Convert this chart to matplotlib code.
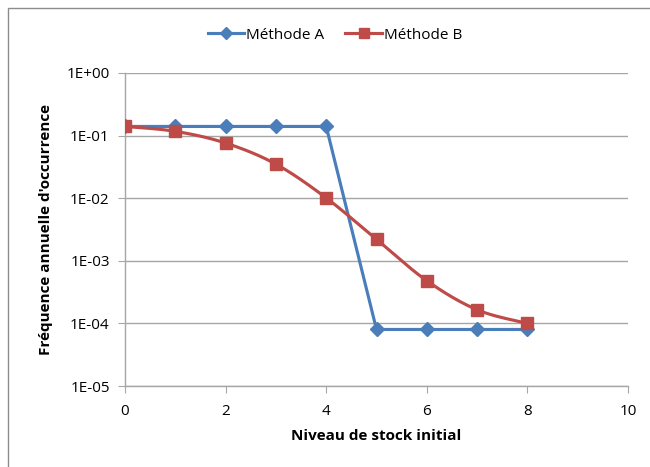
import numpy as np
import matplotlib
matplotlib.use("Agg")
import matplotlib.pyplot as plt
from matplotlib.patches import Rectangle
from matplotlib.lines import Line2D

x_a = [0, 1, 2, 3, 4, 5, 6, 7, 8]
y_a = [0.14, 0.14, 0.14, 0.14, 0.14, 8e-5, 8e-5, 8e-5, 8e-5]
x_b = [0, 1, 2, 3, 4, 5, 6, 7, 8]
y_b = [0.14, 0.117, 0.076, 0.035, 0.0101, 0.0022, 0.00048, 0.000165, 0.0001]
ytick_vals = [1e0, 1e-1, 1e-2, 1e-3, 1e-4, 1e-5]
ytick_labels = ["1E+00", "1E-01", "1E-02", "1E-03", "1E-04", "1E-05"]
xtick_vals = [0, 2, 4, 6, 8, 10]

plt.rcParams['font.family'] = ['Open Sans', 'DejaVu Sans']

def smooth(xs, ys, n=30):
    # Bezier smoothing through the data points (like Excel smoothed lines), in log space
    px = np.array(xs, float)
    py = np.log10(np.array(ys, float))
    outx, outy = [], []
    N = len(px)
    for i in range(N - 1):
        p0 = (px[max(i - 1, 0)], py[max(i - 1, 0)])
        p1 = (px[i], py[i])
        p2 = (px[i + 1], py[i + 1])
        p3 = (px[min(i + 2, N - 1)], py[min(i + 2, N - 1)])
        c1 = (p1[0] + (p2[0] - p0[0]) / 6, p1[1] + (p2[1] - p0[1]) / 6)
        c2 = (p2[0] - (p3[0] - p1[0]) / 6, p2[1] - (p3[1] - p1[1]) / 6)
        t = np.linspace(0, 1, n)
        bx = (1 - t)**3 * p1[0] + 3 * (1 - t)**2 * t * c1[0] + 3 * (1 - t) * t**2 * c2[0] + t**3 * p2[0]
        by = (1 - t)**3 * p1[1] + 3 * (1 - t)**2 * t * c1[1] + 3 * (1 - t) * t**2 * c2[1] + t**3 * p2[1]
        outx.extend(bx)
        outy.extend(by)
    return np.array(outx), 10 ** np.array(outy)

fig = plt.figure(figsize=(6.5, 4.67), dpi=100)
fig.patches.append(Rectangle((0.0125, -0.05), 1.1, 1.0335, transform=fig.transFigure,
                             fill=False, edgecolor='#8c8c8c', linewidth=1.0))
ax = fig.add_axes([0.1923, 0.1734, 0.7739, 0.6703])

blue = '#4a7ebb'
red = '#be4b48'

ax.plot(x_a, y_a, color=blue, linewidth=2.25, marker='D', markersize=7,
        markerfacecolor=blue, markeredgecolor=blue, zorder=3)
sx, sy = smooth(x_b, y_b)
ax.plot(sx, sy, color=red, linewidth=2.25, zorder=4)
ax.plot(x_b, y_b, linestyle='none', marker='s', markersize=9,
        markerfacecolor=red, markeredgecolor=red, zorder=5)

ax.set_yscale('log')
ax.set_ylim(1e-5, 1)
ax.set_xlim(0, 10)
ax.set_yticks(ytick_vals)
ax.set_yticklabels(ytick_labels)
ax.yaxis.set_minor_locator(matplotlib.ticker.NullLocator())
ax.set_xticks(xtick_vals)
ax.grid(axis='y', color='#a6a6a6', linewidth=1)
ax.set_axisbelow(True)
for s in ['top', 'right']:
    ax.spines[s].set_visible(False)
for s in ['left', 'bottom']:
    ax.spines[s].set_color('#a6a6a6')
    ax.spines[s].set_linewidth(1)
ax.tick_params(axis='both', direction='out', length=5, color='#a6a6a6', labelsize=11, labelcolor='black')
ax.tick_params(axis='x', pad=8)
ax.tick_params(axis='y', pad=6)

ax.set_xlabel('Niveau de stock initial', fontsize=11, fontweight='bold', labelpad=7)
ax.set_ylabel("Fréquence annuelle d'occurrence", fontsize=11, fontweight='bold', labelpad=10)

handles = [Line2D([], [], color=blue, linewidth=2.25, marker='D', markersize=6),
           Line2D([], [], color=red, linewidth=2.25, marker='s', markersize=7)]
fig.legend(handles, ['Méthode A', 'Méthode B'], loc='center',
           bbox_to_anchor=(0.515, 0.925), ncol=2, frameon=False,
           fontsize=11, handlelength=2.4, columnspacing=1.4, handletextpad=0.1)

fig.savefig('out.png', dpi=100)
